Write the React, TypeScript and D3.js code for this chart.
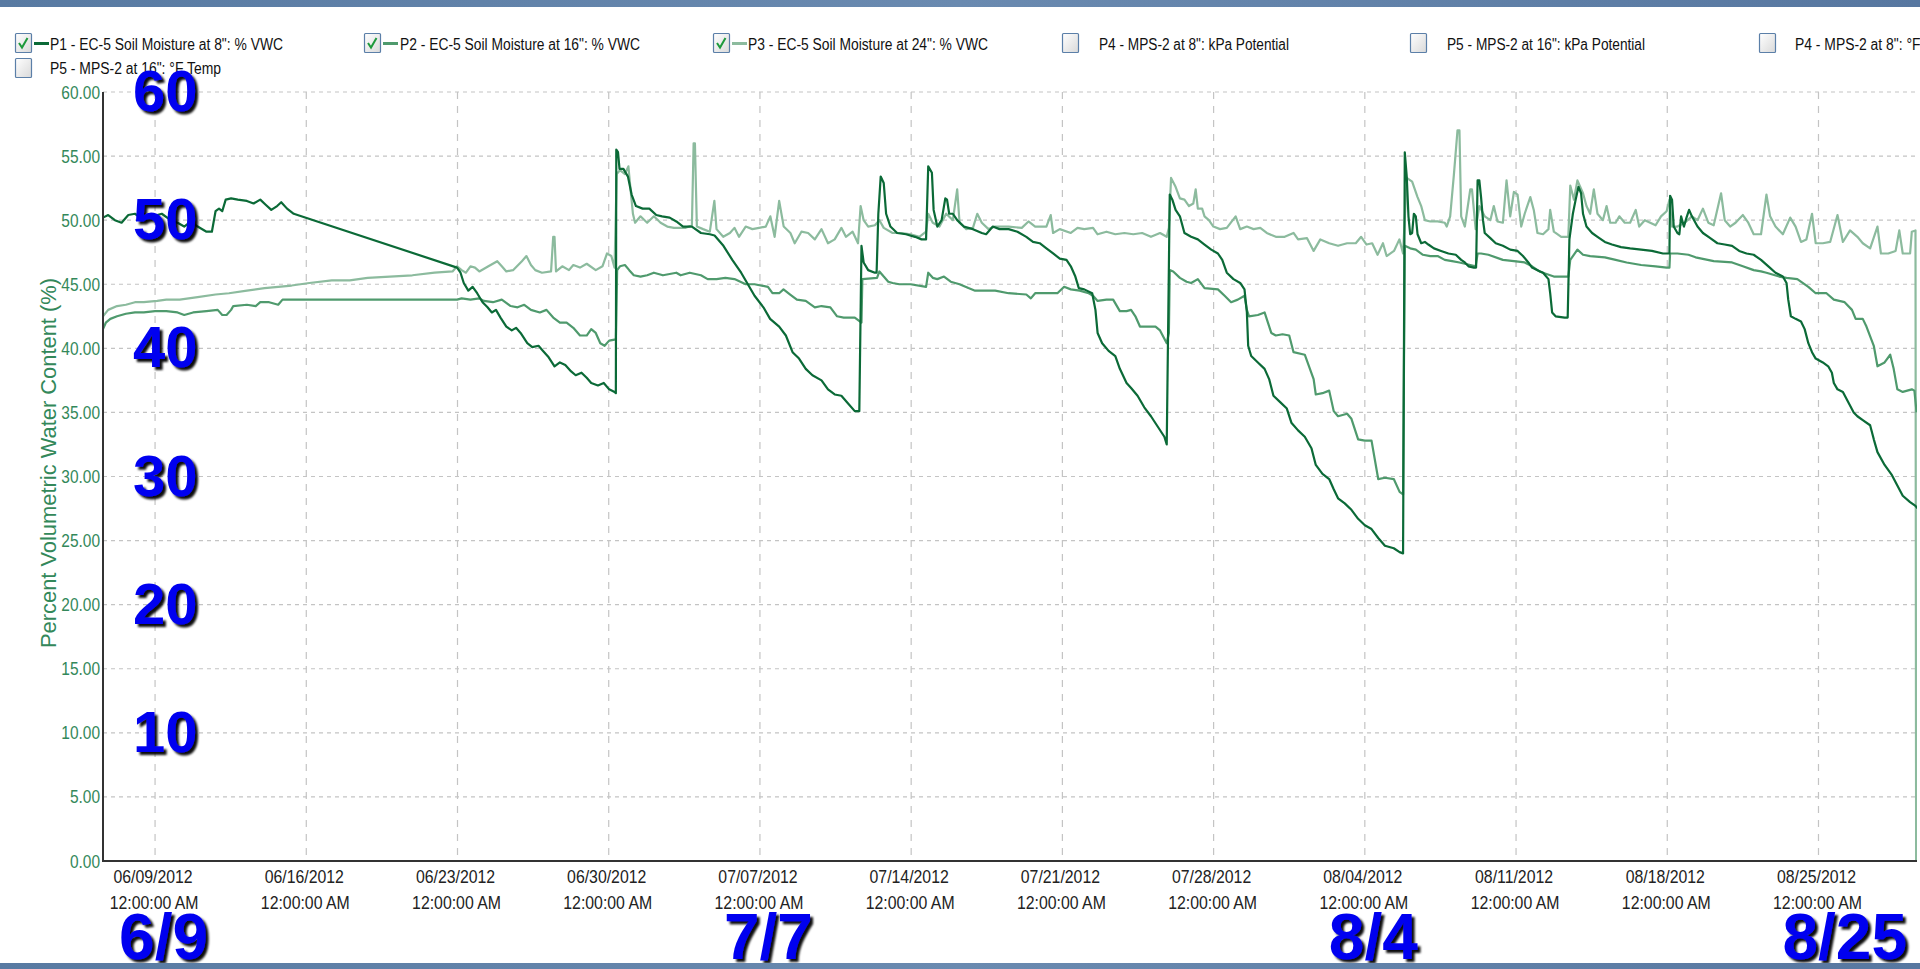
import React from "react";
import * as d3 from "d3";

type Pt = [number, number];

// time values are elapsed days since 06/09/2012 12:00:00 AM, values are % VWC
const START = new Date(2012, 5, 9, 0, 0, 0);
const DAY_MS = 86400000;
const X_DOMAIN_DAYS: [number, number] = [-2.41, 81.56];
const Y_DOMAIN: [number, number] = [0, 60];
const Y_TICKS = [0, 5, 10, 15, 20, 25, 30, 35, 40, 45, 50, 55, 60];
const X_TICKS = [
  "06/09/2012", "06/16/2012", "06/23/2012", "06/30/2012", "07/07/2012", "07/14/2012",
  "07/21/2012", "07/28/2012", "08/04/2012", "08/11/2012", "08/18/2012", "08/25/2012",
];
const LEFT_MARKS = [60, 50, 40, 30, 20, 10];
const BOTTOM_MARKS: [string, string][] = [
  ["6/9", "06/09/2012"], ["7/7", "07/07/2012"], ["8/4", "08/04/2012"], ["8/25", "08/25/2012"],
];
const Y_TITLE = "Percent Volumetric Water Content (%)";

const LEGEND_ROW1 = [
  'P1 - EC-5 Soil Moisture at 8": % VWC',
  'P2 - EC-5 Soil Moisture at 16": % VWC',
  'P3 - EC-5 Soil Moisture at 24": % VWC',
  'P4 - MPS-2 at 8": kPa Potential',
  'P5 - MPS-2 at 16": kPa Potential',
  'P4 - MPS-2 at 8": °F Temp',
];
const LEGEND_ROW2 = ['P5 - MPS-2 at 16": °F Temp'];
const LEGEND_CHECKED = [true, true, true, false, false, false];

const P1: Pt[] = [
  [-2.41,50.2],[-2.17,50.4],[-1.86,50.0],[-1.55,49.8],[-1.24,50.4],[-0.93,50.5],[-0.52,50.0],[-0.10,50.3],[0.31,50.5],[0.72,50.0],[1.04,49.8],[1.35,49.5],[1.66,49.9],[1.97,49.5],[2.38,49.1],[2.63,49.1],[2.80,50.7],[2.96,50.9],[3.11,50.7],[3.27,51.6],[3.52,51.7],[3.83,51.6],[4.25,51.5],[4.56,51.3],[4.87,51.6],[5.12,51.2],[5.38,50.8],[5.65,51.1],[5.84,51.4],[6.11,50.9],[6.42,50.5],
  [13.98,46.3],[14.14,45.9],[14.29,45.1],[14.50,44.5],[14.70,44.8],[14.91,44.3],[15.16,43.6],[15.39,43.2],[15.59,42.8],[15.78,43.0],[15.99,42.4],[16.26,41.7],[16.51,41.4],[16.71,41.6],[16.92,41.2],[17.23,40.4],[17.46,40.1],[17.75,40.2],[17.96,39.8],[18.22,39.3],[18.49,38.6],[18.74,38.9],[18.99,38.7],[19.26,38.2],[19.47,37.9],[19.74,38.1],[19.98,37.7],[20.19,37.3],[20.50,37.1],[20.77,37.3],[21.02,36.8],[21.27,36.6],[21.33,36.5],
  [21.35,55.5],[21.43,55.3],[21.50,54.0],[21.68,54.0],[21.89,53.4],[22.06,52.0],[22.26,51.1],[22.57,50.9],[22.88,50.9],[23.20,50.4],[23.47,50.3],[23.82,50.2],[24.13,49.9],[24.44,49.5],[24.85,49.5],[25.27,49.0],[25.68,48.9],[25.90,48.8],[26.31,48.0],[26.72,46.9],[27.13,45.9],[27.44,45.0],[27.75,44.1],[28.16,43.2],[28.47,42.3],[28.89,41.7],[29.20,41.0],[29.51,39.7],[29.81,39.2],[30.12,38.4],[30.43,37.9],[30.85,37.5],[31.15,36.8],[31.46,36.4],[31.77,36.3],[32.08,35.7],[32.39,35.1],[32.60,35.1],
  [32.70,48.0],[32.80,46.7],[33.01,46.1],[33.32,45.9],[33.40,45.9],[33.48,50.5],[33.59,53.4],[33.73,52.9],[33.84,50.5],[34.04,49.5],[34.35,49.0],[34.76,48.9],[35.18,48.7],[35.48,48.5],[35.69,48.5],[35.79,54.2],[35.96,53.7],[36.04,50.8],[36.21,49.5],[36.41,50.0],[36.58,51.7],[36.66,51.6],[36.76,50.5],[36.93,50.5],[37.13,50.0],[37.44,49.5],[37.86,49.3],[38.27,49.0],[38.47,48.9],[38.78,49.5],[39.09,49.3],[39.51,49.3],[39.92,49.1],[40.33,48.7],[40.64,48.3],[40.95,48.2],[41.26,47.8],[41.57,47.4],[41.88,47.0],[42.19,46.9],[42.39,46.4],[42.60,45.6],[42.76,44.7],[43.01,44.6],[43.38,44.3],[43.53,43.0],[43.63,41.2],[43.84,40.4],[44.14,39.8],[44.45,39.4],[44.66,38.4],[44.97,37.3],[45.18,36.9],[45.48,36.3],[45.79,35.4],[46.10,34.7],[46.41,33.9],[46.72,33.1],[46.83,32.5],
  [46.97,52.0],[47.09,51.6],[47.24,50.8],[47.44,50.3],[47.65,49.0],[47.96,48.7],[48.27,48.5],[48.58,48.1],[48.89,47.7],[49.20,47.4],[49.40,46.9],[49.61,45.9],[49.92,45.4],[50.23,45.1],[50.43,44.6],[50.54,42.8],[50.60,40.2],[50.74,39.4],[51.05,38.9],[51.36,38.4],[51.57,37.6],[51.77,36.3],[52.08,35.8],[52.39,35.3],[52.60,34.2],[52.91,33.6],[53.22,33.1],[53.53,32.2],[53.73,30.9],[54.04,30.2],[54.35,29.8],[54.56,29.0],[54.76,28.3],[55.07,27.9],[55.38,27.4],[55.69,26.7],[56.00,26.2],[56.31,25.9],[56.62,25.2],[56.93,24.6],[57.34,24.4],[57.61,24.1],[57.77,24.0],
  [57.85,55.3],[57.94,53.4],[58.02,50.3],[58.10,48.9],[58.19,49.0],[58.27,50.5],[58.36,50.3],[58.44,48.9],[58.61,48.2],[58.78,48.3],[58.94,48.1],[59.20,47.8],[59.53,47.6],[59.87,47.4],[60.21,47.3],[60.46,46.9],[60.63,46.7],[60.80,46.4],[61.05,46.3],[61.15,46.3],[61.22,53.1],[61.30,53.1],[61.38,51.8],[61.47,50.0],[61.55,49.0],[61.81,48.6],[62.06,48.2],[62.39,48.0],[62.73,47.7],[63.07,47.6],[63.32,47.2],[63.57,46.7],[63.74,46.3],[63.99,46.1],[64.25,45.9],[64.50,45.4],[64.58,44.3],[64.67,42.8],[64.83,42.5],[65.25,42.4],[65.39,42.4],[65.47,48.5],[65.63,50.5],[65.76,51.6],[65.89,52.6],[66.01,52.1],[66.10,50.5],[66.26,49.5],[66.52,49.0],[66.77,48.7],[67.11,48.3],[67.44,48.1],[67.86,47.9],[68.28,47.8],[68.79,47.7],[69.29,47.6],[69.80,47.4],[70.10,47.4],[70.13,51.9],[70.22,51.6],[70.30,49.5],[70.47,49.0],[70.56,48.9],[70.64,50.3],[70.77,49.5],[70.89,50.2],[71.01,50.8],[71.14,50.3],[71.40,49.5],[71.65,49.0],[71.99,48.6],[72.32,48.2],[72.66,48.1],[73.00,48.0],[73.33,47.6],[73.67,47.4],[74.00,47.3],[74.34,46.9],[74.68,46.4],[75.01,45.9],[75.35,45.6],[75.52,45.1],[75.60,43.8],[75.72,42.5],[75.94,42.3],[76.19,42.1],[76.36,41.5],[76.53,40.4],[76.70,39.7],[76.87,39.2],[77.20,38.9],[77.45,38.6],[77.62,38.1],[77.71,37.3],[77.88,36.8],[78.13,36.6],[78.38,35.8],[78.63,35.0],[78.80,34.7],[79.05,34.4],[79.39,34.0],[79.56,32.9],[79.73,31.9],[80.06,30.9],[80.40,30.1],[80.65,29.3],[80.90,28.5],[81.24,28.0],[81.49,27.7],[81.60,27.5],
];

const P2: Pt[] = [
  [-2.41,41.5],[-2.28,42.0],[-2.07,42.3],[-1.76,42.5],[-1.35,42.7],[-0.93,42.8],[-0.52,42.8],[0.00,42.9],[0.52,42.9],[1.04,42.8],[1.35,42.6],[1.76,42.8],[2.38,42.9],[2.90,43.0],[3.11,42.6],[3.31,42.6],[3.52,43.0],[3.62,43.3],[4.25,43.4],[4.66,43.3],[4.87,43.6],[5.28,43.6],[5.70,43.4],[5.90,43.8],
  [13.98,43.8],[14.19,43.9],[14.60,43.8],[15.01,43.9],[15.22,43.7],[15.64,43.6],[16.05,43.8],[16.46,43.3],[16.78,43.2],[17.09,43.4],[17.40,43.0],[17.81,42.8],[18.12,43.0],[18.43,42.4],[18.74,42.0],[19.05,42.0],[19.36,41.6],[19.67,41.0],[19.98,41.0],[20.19,41.5],[20.40,41.2],[20.61,40.4],[20.81,40.2],[21.02,40.6],[21.33,40.7],
  [21.39,46.1],[21.52,46.4],[21.75,46.5],[21.95,46.1],[22.16,45.7],[22.47,45.6],[22.78,45.7],[23.09,45.9],[23.51,45.7],[24.13,45.9],[24.33,45.7],[24.75,45.9],[25.27,45.7],[25.58,45.4],[25.99,45.4],[26.40,45.5],[26.82,45.4],[27.34,45.0],[27.75,45.0],[28.37,44.8],[28.58,44.3],[28.89,44.3],[29.09,44.6],[29.40,44.2],[29.71,43.8],[30.12,43.7],[30.54,43.2],[30.85,43.3],[31.26,43.2],[31.57,42.5],[31.88,42.4],[32.39,42.4],[32.70,42.0],
  [32.74,45.4],[33.42,45.5],[33.53,46.0],[33.73,45.6],[33.94,45.2],[34.14,45.1],[34.45,45.0],[34.97,45.0],[35.69,44.8],[35.79,45.9],[36.00,45.5],[36.21,45.4],[36.52,45.6],[36.83,45.2],[37.24,45.0],[37.65,44.7],[37.96,44.5],[38.89,44.5],[39.51,44.3],[40.33,44.2],[40.54,43.9],[40.74,44.3],[41.77,44.3],[42.08,44.8],[42.39,44.6],[42.80,44.5],[43.22,44.3],[43.42,44.1],[43.63,43.7],[44.04,43.8],[44.35,43.8],[44.66,42.9],[44.97,42.9],[45.18,43.0],[45.38,42.5],[45.59,41.7],[46.00,41.7],[46.31,41.7],[46.52,41.4],[46.83,40.4],[46.93,41.2],
  [46.97,46.1],[47.13,46.0],[47.44,45.5],[47.75,45.2],[47.96,45.1],[48.27,45.4],[48.58,44.7],[49.20,44.6],[49.51,44.1],[49.81,43.6],[50.12,43.8],[50.43,44.1],[50.54,43.0],[50.64,42.5],[51.05,42.6],[51.36,42.8],[51.67,41.2],[51.88,41.0],[52.19,41.1],[52.50,41.0],[52.70,39.7],[53.22,39.5],[53.63,37.6],[53.73,36.4],[54.04,36.5],[54.35,36.7],[54.56,35.1],[54.76,34.7],[55.18,34.9],[55.38,34.5],[55.69,32.9],[56.00,32.8],[56.31,32.8],[56.62,29.8],[56.93,29.9],[57.34,29.8],[57.61,28.8],[57.77,28.6],
  [57.85,48.0],[58.10,47.8],[58.36,47.7],[58.69,47.3],[59.03,47.2],[59.37,47.2],[59.70,46.9],[60.04,46.8],[60.38,46.7],[60.88,46.5],[61.13,46.4],[61.22,47.4],[61.38,47.4],[61.72,47.3],[62.39,46.9],[62.90,46.8],[63.40,46.7],[63.74,46.4],[64.08,46.0],[64.41,45.8],[64.75,45.6],[65.42,45.6],[65.51,46.9],[65.84,47.7],[66.10,47.3],[66.43,47.2],[67.11,47.1],[67.61,46.9],[68.12,46.7],[68.79,46.5],[69.46,46.4],[69.97,46.3],[70.10,46.3],[70.13,47.4],[70.47,47.4],[70.98,47.3],[71.31,47.1],[72.15,46.8],[73.00,46.7],[73.50,46.4],[74.00,46.1],[74.34,46.0],[74.59,45.9],[75.18,45.6],[75.52,45.5],[76.02,45.4],[76.53,44.8],[76.87,44.3],[77.37,44.3],[77.71,43.8],[78.21,43.6],[78.55,43.0],[78.72,42.3],[79.05,42.3],[79.22,41.7],[79.56,40.2],[79.73,38.6],[80.06,38.9],[80.32,39.5],[80.48,38.4],[80.65,36.8],[80.90,36.6],[81.32,36.8],[81.44,36.7],[81.54,35.0],
];

const P3: Pt[] = [
  [-2.41,42.5],[-2.17,43.0],[-1.76,43.3],[-1.35,43.4],[-0.93,43.6],[-0.52,43.6],[0.10,43.7],[0.52,43.8],[1.14,43.8],[1.97,44.0],[2.80,44.2],[3.42,44.3],[4.25,44.5],[5.07,44.7],[5.70,44.8],[6.32,44.9],[7.14,45.1],[8.18,45.3],[9.01,45.3],[9.84,45.5],[10.87,45.6],[11.91,45.7],[12.94,45.9],[13.77,46.0],[13.98,46.4],[14.19,46.1],[14.39,45.9],[14.60,46.4],[14.81,46.3],[15.01,46.0],[15.43,46.4],[15.84,46.8],[16.05,46.4],[16.26,46.0],[16.57,46.1],[16.98,46.8],[17.19,47.2],[17.40,46.5],[17.60,46.1],[17.91,45.9],[18.33,46.0],[18.43,48.7],[18.49,48.7],[18.56,46.0],[18.85,46.4],[19.16,46.1],[19.36,46.5],[19.67,46.3],[19.98,46.6],[20.40,46.1],[20.71,46.4],[20.92,47.4],[21.12,47.2],[21.27,46.3],
  [21.37,53.6],[21.52,53.9],[21.75,53.6],[21.91,54.2],[22.01,52.4],[22.12,50.5],[22.22,49.8],[22.47,50.3],[22.78,49.8],[23.09,50.3],[23.40,49.8],[23.71,49.5],[24.02,49.4],[24.54,49.4],[24.85,49.6],[24.93,56.0],[24.99,56.0],[25.08,49.5],[25.37,49.3],[25.68,49.1],[25.89,51.5],[25.99,49.3],[26.30,48.7],[26.61,49.0],[26.82,49.4],[27.03,48.7],[27.34,49.5],[27.65,49.3],[27.96,49.4],[28.27,49.5],[28.48,50.3],[28.68,48.7],[28.89,51.5],[29.10,49.5],[29.41,49.0],[29.61,48.2],[29.92,49.1],[30.23,49.0],[30.54,48.5],[30.85,49.3],[31.15,48.2],[31.46,48.5],[31.77,49.4],[31.98,48.7],[32.29,49.1],[32.54,48.2],[32.66,51.1],[32.80,50.0],[33.01,49.5],[33.32,49.6],[33.53,50.0],[33.73,49.4],[34.14,49.0],[34.56,49.0],[34.97,48.9],[35.38,48.7],[35.69,49.1],[35.79,50.5],[36.00,49.8],[36.31,49.5],[36.62,50.5],[36.93,50.0],[37.13,52.4],[37.24,49.8],[37.55,49.3],[37.86,49.4],[38.06,50.5],[38.27,49.8],[38.58,49.3],[38.89,49.5],[39.51,49.5],[40.12,49.4],[40.43,49.9],[40.74,49.5],[41.26,49.5],[41.46,50.4],[41.57,49.0],[41.88,49.3],[42.39,49.0],[42.70,49.4],[43.01,49.3],[43.42,49.4],[43.63,48.9],[44.04,49.1],[44.45,48.9],[44.87,49.0],[45.28,48.9],[45.69,49.0],[46.10,48.7],[46.52,49.0],[46.83,48.7],[46.93,49.4],
  [47.03,53.3],[47.24,52.6],[47.44,51.7],[47.65,51.6],[47.86,51.1],[48.06,51.3],[48.17,52.4],[48.27,50.9],[48.47,50.9],[48.58,50.3],[48.78,50.0],[48.99,49.5],[49.30,49.3],[49.61,49.4],[50.02,50.3],[50.23,49.3],[50.54,49.5],[50.85,49.3],[51.16,49.4],[51.46,49.0],[51.88,48.7],[52.29,48.7],[52.70,49.0],[52.91,48.5],[53.32,48.6],[53.63,47.6],[53.94,48.5],[54.35,48.2],[54.76,48.0],[55.18,48.2],[55.58,48.2],[55.83,48.7],[56.08,48.1],[56.34,48.2],[56.59,47.3],[56.84,48.2],[57.01,47.2],[57.35,47.6],[57.60,48.5],[57.77,47.4],
  [57.94,53.3],[58.19,53.0],[58.44,51.8],[58.61,51.1],[58.78,50.0],[59.03,49.9],[59.37,49.9],[59.70,49.8],[59.79,49.5],[59.95,50.3],[60.12,53.5],[60.29,57.0],[60.38,57.0],[60.46,50.3],[60.63,49.5],[60.88,52.4],[60.96,52.4],[61.13,49.3],[61.30,51.1],[61.55,50.3],[61.81,50.0],[61.97,51.1],[62.14,49.9],[62.39,49.8],[62.56,53.1],[62.73,50.3],[62.90,52.2],[63.07,52.0],[63.24,49.5],[63.40,50.5],[63.66,51.8],[63.82,50.8],[63.99,49.0],[64.25,48.9],[64.50,49.3],[64.58,50.8],[64.75,49.1],[65.09,48.7],[65.42,48.7],[65.51,52.7],[65.68,51.6],[65.84,53.1],[66.10,52.1],[66.26,51.1],[66.43,50.5],[66.60,52.4],[66.77,50.5],[67.02,50.0],[67.19,51.1],[67.36,49.8],[67.61,49.8],[67.78,50.3],[68.03,49.8],[68.28,49.8],[68.54,50.8],[68.70,49.5],[68.96,50.0],[69.21,49.8],[69.46,49.6],[69.71,50.3],[69.97,50.7],[70.10,51.6],[70.22,49.5],[70.47,49.5],[70.81,49.8],[71.14,50.3],[71.40,50.0],[71.65,50.9],[71.90,49.8],[72.15,49.6],[72.49,52.1],[72.66,50.0],[72.91,49.5],[73.16,49.8],[73.50,50.4],[73.75,49.8],[74.00,48.9],[74.34,48.9],[74.59,52.0],[74.76,50.3],[75.01,49.5],[75.35,48.9],[75.69,50.2],[75.94,49.5],[76.19,48.3],[76.44,48.5],[76.70,50.5],[76.87,48.2],[77.20,48.2],[77.54,48.3],[77.88,50.4],[78.13,48.3],[78.46,49.2],[78.80,48.7],[79.05,48.2],[79.39,47.8],[79.73,49.5],[79.89,47.4],[80.23,47.4],[80.57,47.6],[80.74,49.2],[80.90,47.4],[81.24,47.4],[81.32,49.1],[81.49,49.2],[81.52,0.0],
];

// ---------- layout & style ----------
const W = 1920;
const H = 969;
const PLOT = { left: 103, right: 1917, top: 92, bottom: 861 };
const COLORS = { p1: "#0b6a37", p2: "#4f9a6d", p3: "#8cbb9e" };
const AXIS_GREEN = "#33885a";
const LEGEND_X = [15, 364, 713, 1062, 1410, 1759];
const LEGEND_TEXT_X = [50, 400, 748, 1099, 1447, 1795];
const LEGEND_W = [233, 240, 240, 190, 198, 163];
const FONT = "'Liberation Sans', Arial, sans-serif";

const toDate = (d: number) => new Date(START.getTime() + d * DAY_MS);
const parseTick = d3.timeParse("%m/%d/%Y");

function Checkbox({ x, y, checked }: { x: number; y: number; checked: boolean }) {
  return (
    <g>
      <rect x={x + 0.5} y={y + 0.5} width={16} height={19} fill="url(#cbfill)" stroke="#5b7fa8" strokeWidth={1.2} rx={1} />
      {checked && (
        <polyline
          points={`${x + 4},${y + 10} ${x + 7},${y + 14.5} ${x + 12.5},${y + 5}`}
          fill="none"
          stroke="#1e9a3c"
          strokeWidth={2}
        />
      )}
    </g>
  );
}

export default function App() {
  const x = d3.scaleTime().domain(X_DOMAIN_DAYS.map(toDate)).range([PLOT.left, PLOT.right]);
  const y = d3.scaleLinear().domain(Y_DOMAIN).range([PLOT.bottom, PLOT.top]);
  const line = d3
    .line<Pt>()
    .x((d) => x(toDate(d[0])))
    .y((d) => y(d[1]));
  const tickDates = X_TICKS.map((t) => parseTick(t) as Date);
  const fmtDate = d3.timeFormat("%m/%d/%Y");

  const series = [
    { data: P3, color: COLORS.p3 },
    { data: P2, color: COLORS.p2 },
    { data: P1, color: COLORS.p1 },
  ];
  const legendColors = [COLORS.p1, COLORS.p2, COLORS.p3];

  return (
    <svg
      width={W}
      height={H}
      viewBox={`0 0 ${W} ${H}`}
      style={{ position: "absolute", left: 0, top: 0, background: "#fff" }}
      fontFamily={FONT}
    >
      <defs>
        <linearGradient id="cbfill" x1="0" y1="0" x2="1" y2="1">
          <stop offset="0" stopColor="#ffffff" />
          <stop offset="1" stopColor="#d9d9d9" />
        </linearGradient>
        <linearGradient id="bar" x1="0" y1="0" x2="1" y2="0">
          <stop offset="0" stopColor="#587aa2" />
          <stop offset="0.5" stopColor="#6a8ab0" />
          <stop offset="1" stopColor="#5777a0" />
        </linearGradient>
        <clipPath id="plotclip">
          <rect x={PLOT.left} y={0} width={PLOT.right - PLOT.left} height={PLOT.bottom} />
        </clipPath>
        <filter id="shadow" x="-30%" y="-30%" width="160%" height="160%">
          <feDropShadow dx="3" dy="3" stdDeviation="1.3" floodColor="#000" floodOpacity="0.95" />
        </filter>
      </defs>

      <rect x={0} y={0} width={W} height={H} fill="#fff" />

      {/* gridlines */}
      <g>
        {Y_TICKS.filter((v) => v > 0).map((v) => (
          <line key={v} x1={PLOT.left} x2={PLOT.right} y1={y(v)} y2={y(v)} stroke="#c4c4c4" strokeWidth={1.2} strokeDasharray="4,4" />
        ))}
        {tickDates.map((d, i) => (
          <line key={i} x1={x(d)} x2={x(d)} y1={PLOT.top} y2={PLOT.bottom} stroke="#c4c4c4" strokeWidth={1.2} strokeDasharray="7,7" />
        ))}
      </g>

      {/* series */}
      <g clipPath="url(#plotclip)">
        {series.map((s, i) => (
          <path key={i} d={line(s.data) || ""} fill="none" stroke={s.color} strokeWidth={2.2} strokeLinejoin="round" />
        ))}
      </g>

      {/* axes */}
      <line x1={PLOT.left} x2={PLOT.left} y1={PLOT.top} y2={PLOT.bottom + 1} stroke="#333" strokeWidth={2} />
      <line x1={PLOT.left} x2={PLOT.right} y1={PLOT.bottom} y2={PLOT.bottom} stroke="#333" strokeWidth={2} />

      {/* y tick labels */}
      {Y_TICKS.map((v) => (
        <text
          key={v}
          transform={`translate(${PLOT.left - 3},${y(v) + 6.5}) scale(0.86,1)`}
          textAnchor="end"
          fontSize={18}
          fill={AXIS_GREEN}
        >
          {d3.format(".2f")(v)}
        </text>
      ))}

      {/* y title */}
      <text
        transform={`translate(56,${(PLOT.top + PLOT.bottom) / 2 - 13.5}) rotate(-90)`}
        textAnchor="middle"
        fontSize={21.5}
        fill={AXIS_GREEN}
        textLength={370}
        lengthAdjust="spacingAndGlyphs"
      >
        {Y_TITLE}
      </text>

      {/* x tick labels */}
      {tickDates.map((d, i) => (
        <g key={i}>
          <text transform={`translate(${x(d) - 2},883) scale(0.88,1)`} textAnchor="middle" fontSize={18} fill="#222">
            {fmtDate(d)}
          </text>
          <text transform={`translate(${x(d) - 1},909) scale(0.88,1)`} textAnchor="middle" fontSize={18} fill="#222">
            12:00:00 AM
          </text>
        </g>
      ))}

      {/* legend */}
      {LEGEND_ROW1.map((label, i) => (
        <g key={i}>
          <Checkbox x={LEGEND_X[i]} y={33} checked={LEGEND_CHECKED[i]} />
          {LEGEND_CHECKED[i] && (
            <line x1={LEGEND_X[i] + 19} x2={LEGEND_X[i] + 34} y1={43.5} y2={43.5} stroke={legendColors[i]} strokeWidth={3} />
          )}
          <text
            x={LEGEND_TEXT_X[i]}
            y={50}
            fontSize={16}
            fill="#111"
            textLength={LEGEND_W[i]}
            lengthAdjust="spacingAndGlyphs"
          >
            {label}
          </text>
        </g>
      ))}
      {LEGEND_ROW2.map((label, i) => (
        <g key={i}>
          <Checkbox x={LEGEND_X[0]} y={58} checked={false} />
          <text x={LEGEND_TEXT_X[0]} y={74} fontSize={16} fill="#111" textLength={171} lengthAdjust="spacingAndGlyphs">
            {label}
          </text>
        </g>
      ))}

      {/* blue annotations */}
      <g filter="url(#shadow)" fontWeight="bold" fill="#0000f0">
        {LEFT_MARKS.map((v) => (
          <text key={v} x={133} y={y(v) + 19} fontSize={58}>
            {v}
          </text>
        ))}
        {BOTTOM_MARKS.map(([label, date]) => (
          <text key={label} x={x(parseTick(date) as Date) - 36} y={959} fontSize={64}>
            {label}
          </text>
        ))}
      </g>

      {/* frame bars */}
      <rect x={0} y={0} width={W} height={7} fill="url(#bar)" />
      <rect x={0} y={963} width={W} height={6} fill="url(#bar)" />
    </svg>
  );
}
